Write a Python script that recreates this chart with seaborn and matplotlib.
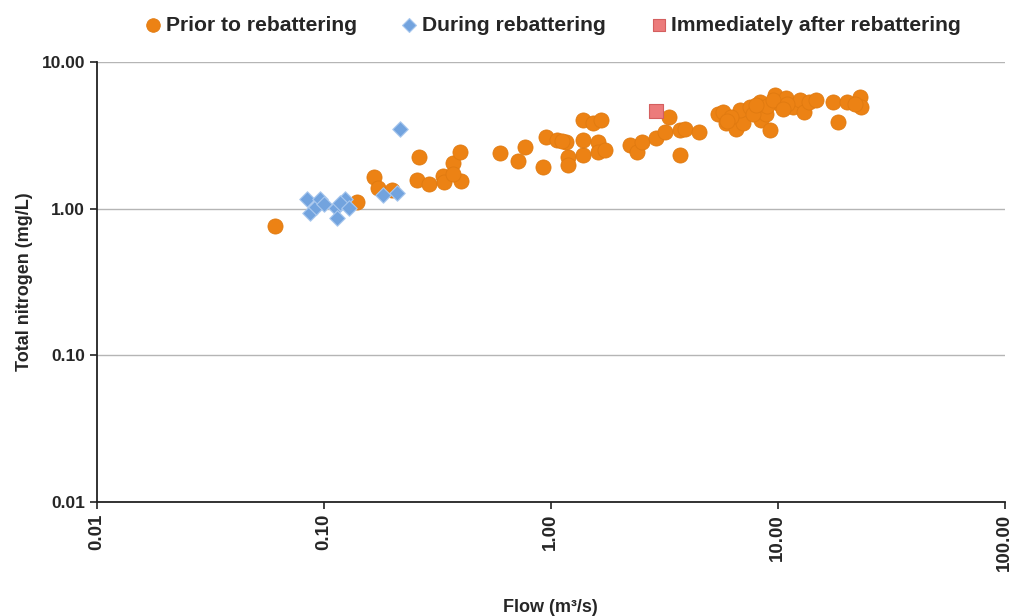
import matplotlib
matplotlib.use("Agg")
import matplotlib.pyplot as plt
import matplotlib.ticker as mticker
import seaborn as sns
import pandas as pd

# ---- data ----
prior_flow = [0.061, 0.140, 0.166, 0.173, 0.199, 0.262, 0.258, 0.290, 0.336, 0.340,
              0.371, 0.398, 0.404, 0.370, 0.596, 0.718, 0.768, 0.925, 0.957, 1.06,
              1.17, 1.12, 1.19, 1.19, 1.38, 1.39, 1.39, 1.53, 1.67, 1.62,
              1.62, 1.73, 2.23, 2.39, 2.51, 2.92, 3.18, 3.32, 3.70, 3.70,
              3.89, 4.50, 5.46, 5.74, 5.94, 6.58, 7.03, 6.80, 7.53, 8.34,
              8.48, 9.22, 8.90, 9.70, 10.2, 10.9, 11.7, 12.5, 13.0, 13.8,
              14.8, 17.5, 18.4, 20.1, 23.0, 23.3, 22.0, 6.2, 7.8, 9.0,
              8.0, 9.5, 11.0, 6.0, 10.5]
prior_tn = [0.76, 1.11, 1.64, 1.38, 1.34, 2.24, 1.57, 1.47, 1.67, 1.53,
            2.04, 2.45, 1.55, 1.72, 2.41, 2.13, 2.62, 1.92, 3.10, 2.94,
            2.86, 2.90, 2.24, 1.99, 2.32, 4.03, 2.94, 3.86, 4.06, 2.86,
            2.45, 2.51, 2.72, 2.45, 2.86, 3.02, 3.35, 4.20, 2.32, 3.44,
            3.53, 3.35, 4.46, 4.58, 3.82, 3.53, 3.82, 4.71, 4.96, 5.36,
            4.03, 3.44, 4.46, 5.96, 5.22, 5.66, 4.96, 5.51, 4.58, 5.36,
            5.51, 5.36, 3.92, 5.36, 5.79, 4.96, 5.22, 4.20, 4.40, 5.00,
            5.10, 5.50, 5.20, 4.00, 4.80]

during_flow = [0.0844, 0.0867, 0.092, 0.0966, 0.100, 0.113, 0.114, 0.124, 0.118, 0.129,
               0.182, 0.210, 0.216]
during_tn = [1.16, 0.93, 1.03, 1.16, 1.08, 1.02, 0.86, 1.16, 1.10, 1.02,
             1.24, 1.29, 3.53]

after_flow = [2.90]
after_tn = [4.66]

labels = ["Prior to rebattering", "During rebattering", "Immediately after rebattering"]
x_ticks = [0.01, 0.1, 1, 10, 100]
y_ticks = [0.01, 0.1, 1, 10]

df_prior = pd.DataFrame({"flow": prior_flow, "tn": prior_tn})
df_during = pd.DataFrame({"flow": during_flow, "tn": during_tn})
df_after = pd.DataFrame({"flow": after_flow, "tn": after_tn})

sns.set_style("white")
plt.rcParams["font.family"] = ["Liberation Sans", "DejaVu Sans"]

fig = plt.figure(figsize=(10.2, 6.16), dpi=100)
ax = fig.add_axes([0.095, 0.185, 0.89, 0.714])

ax.set_xscale("log")
ax.set_yscale("log")

sns.scatterplot(data=df_prior, x="flow", y="tn", ax=ax, marker="o", s=118,
                color="#EC8214", edgecolor="#E07A10", linewidth=0.6,
                label=labels[0], zorder=3)
sns.scatterplot(data=df_during, x="flow", y="tn", ax=ax, marker="D", s=62,
                color="#72A3DE", edgecolor="#A9C8EE", linewidth=0.8,
                label=labels[1], zorder=4)
sns.scatterplot(data=df_after, x="flow", y="tn", ax=ax, marker="s", s=100,
                color="#EC7B7B", edgecolor="#D45F5F", linewidth=0.8,
                label=labels[2], zorder=5)

ax.set_xlim(0.01, 100)
ax.set_ylim(0.01, 10)
ax.xaxis.set_major_locator(mticker.FixedLocator(x_ticks))
ax.yaxis.set_major_locator(mticker.FixedLocator(y_ticks))
ax.xaxis.set_minor_locator(mticker.NullLocator())
ax.yaxis.set_minor_locator(mticker.NullLocator())
ax.xaxis.set_major_formatter(mticker.FormatStrFormatter("%.2f"))
ax.yaxis.set_major_formatter(mticker.FormatStrFormatter("%.2f"))

ax.yaxis.grid(True, color="#B5B5B5", linewidth=1.0)
ax.xaxis.grid(False)
ax.set_axisbelow(True)

for s in ["top", "right"]:
    ax.spines[s].set_visible(False)
for s in ["left", "bottom"]:
    ax.spines[s].set_color("#222222")
    ax.spines[s].set_linewidth(1.3)

ax.tick_params(axis="both", which="major", direction="out", length=5, width=1.2,
               color="#222222", labelsize=12.5, bottom=True, left=True)
ax.tick_params(axis="x", labelsize=13.5)
for lbl in ax.get_xticklabels():
    lbl.set_rotation(90)
    lbl.set_fontweight("bold")
for lbl in ax.get_yticklabels():
    lbl.set_fontweight("bold")

ax.set_xlabel("Flow (m³/s)", fontsize=13, fontweight="bold", labelpad=20)
ax.set_ylabel("Total nitrogen (mg/L)", fontsize=13, fontweight="bold", labelpad=6)

handles, lbls = ax.get_legend_handles_labels()
ax.legend_.remove()
fig.legend(handles, lbls, loc="upper center", bbox_to_anchor=(0.541, 1.005), ncol=3,
           frameon=False, prop={"weight": "bold", "size": 15.2},
           handlelength=1.0, handletextpad=0.1, columnspacing=2.0, markerscale=0.9)

fig.savefig("out.png", dpi=100)
